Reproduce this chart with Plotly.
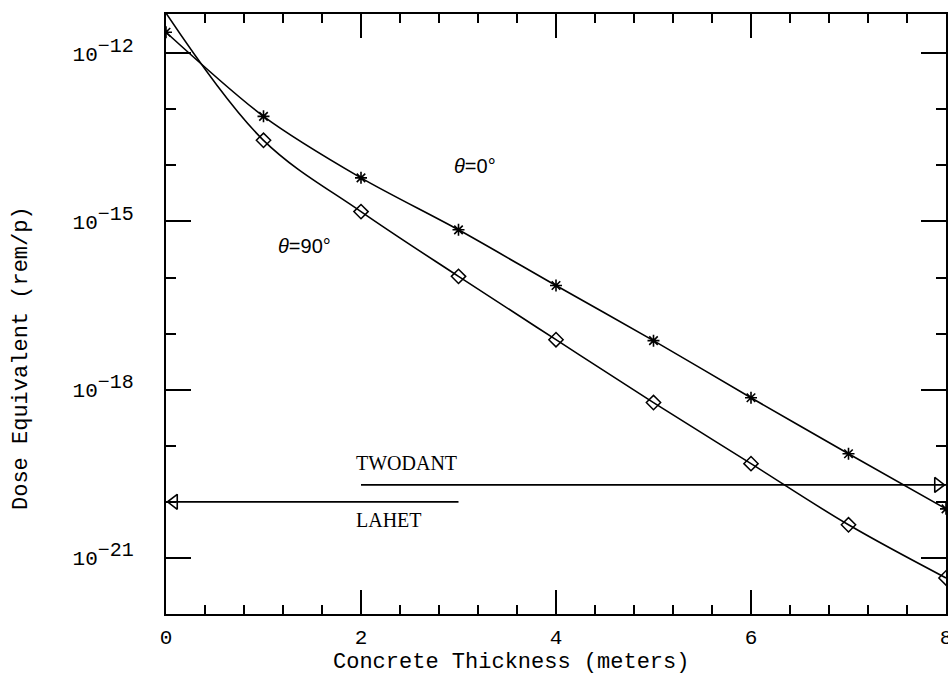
import plotly.graph_objects as go

# ---- data ----
thickness = [0, 1, 2, 3, 4, 5, 6, 7, 8]
dose_theta0 = [2.37e-12, 7.5e-14, 6.0e-15, 7.1e-16, 7.2e-17, 7.5e-18, 7.2e-19, 7.2e-20, 7.5e-21]
dose_theta90 = [5.2e-12, 2.8e-14, 1.5e-15, 1.05e-16, 7.8e-18, 5.9e-19, 4.8e-20, 3.9e-21, 4.4e-22]

twodant_x = [2, 8]
twodant_y = [2.0e-20, 2.0e-20]
lahet_x = [0, 3]
lahet_y = [1.0e-20, 1.0e-20]

x_major = [0, 2, 4, 6, 8]
x_minor = [round(0.4 * i, 1) for i in range(21)]
y_major = [1e-12, 1e-15, 1e-18, 1e-21]
y_exps = ["\u221212", "\u221215", "\u221218", "\u221221"]
y_major_text = ["10<sup><span style='font-size:20px'>%s</span></sup>" % e for e in y_exps]
y_minor = [10.0 ** e for e in range(-22, -11)]

# ---- layout constants ----
W, H = 948, 678
ML, MR, MT, MB = 166, 2, 14, 64
XR = [0, 8]
YR = [-22, -11.3]
plot_w = W - ML - MR
px_per_x = plot_w / (XR[1] - XR[0])
tri_half = 8 / px_per_x  # half length of arrow triangle in data units

mono = "Liberation Mono"
serif = "Liberation Serif"
sans = "Liberation Sans"

fig = go.Figure()

fig.add_trace(go.Scatter(
    x=thickness, y=dose_theta0, mode="lines+markers",
    line=dict(color="black", width=1.6, shape="spline", smoothing=0.8),
    marker=dict(symbol="asterisk-open", size=10, line=dict(color="black", width=1.6)),
    showlegend=False,
))
fig.add_trace(go.Scatter(
    x=thickness, y=dose_theta90, mode="lines",
    line=dict(color="black", width=1.6, shape="spline", smoothing=1.0),
    showlegend=False,
))
# diamond markers for the plotted points (x=0 lies at/above the axis top)
fig.add_trace(go.Scatter(
    x=thickness[1:], y=dose_theta90[1:], mode="markers",
    marker=dict(symbol="diamond-open", size=11, color="black", line=dict(color="black", width=1.5)),
    showlegend=False,
))

# TWODANT / LAHET reference lines
fig.add_trace(go.Scatter(x=twodant_x, y=twodant_y, mode="lines",
                         line=dict(color="black", width=1.8), showlegend=False))
fig.add_trace(go.Scatter(x=lahet_x, y=lahet_y, mode="lines",
                         line=dict(color="black", width=1.8), showlegend=False))
fig.add_trace(go.Scatter(
    x=[twodant_x[-1] - tri_half], y=[twodant_y[-1]], mode="markers",
    marker=dict(symbol="triangle-right-open", size=13, color="black", line=dict(color="black", width=1.6)),
    showlegend=False, cliponaxis=False,
))
fig.add_trace(go.Scatter(
    x=[lahet_x[0] + tri_half], y=[lahet_y[0]], mode="markers",
    marker=dict(symbol="triangle-left-open", size=13, color="black", line=dict(color="black", width=1.6)),
    showlegend=False, cliponaxis=False,
))

def px2paper_x(px):
    return (px - ML) / plot_w

def px2paper_y(py):
    return (H - MB - py) / (H - MT - MB)

annotations = [
    dict(text="<i>\u03b8</i>=0\u00b0", x=px2paper_x(452), y=px2paper_y(166), xanchor="left", yanchor="middle",
         font=dict(family=sans, size=20, color="black")),
    dict(text="<i>\u03b8</i>=90\u00b0", x=px2paper_x(276), y=px2paper_y(246), xanchor="left", yanchor="middle",
         font=dict(family=sans, size=20, color="black")),
    dict(text="TWODANT", x=px2paper_x(354), y=px2paper_y(463), xanchor="left", yanchor="middle",
         font=dict(family=serif, size=20, color="black")),
    dict(text="LAHET", x=px2paper_x(354), y=px2paper_y(520), xanchor="left", yanchor="middle",
         font=dict(family=serif, size=20, color="black")),
    dict(text="Concrete Thickness (meters)", x=px2paper_x(511), y=px2paper_y(663),
         xanchor="center", yanchor="middle", font=dict(family=mono, size=22, color="black")),
    dict(text="Dose Equivalent (rem/p)", x=px2paper_x(22), y=px2paper_y(358), textangle=-90,
         xanchor="center", yanchor="middle", font=dict(family=mono, size=22, color="black")),
]
for a in annotations:
    a.update(xref="paper", yref="paper", showarrow=False)

fig.update_layout(
    width=W, height=H,
    margin=dict(l=ML, r=MR, t=MT, b=MB, pad=0, autoexpand=False),
    paper_bgcolor="white", plot_bgcolor="white",
    annotations=annotations,
    font=dict(family=mono, size=21, color="black"),
)

fig.update_xaxes(
    range=XR, showgrid=False, zeroline=False, automargin=False,
    showline=True, linecolor="black", linewidth=2, mirror="ticks",
    ticks="inside", ticklen=24, tickwidth=2, tickcolor="black",
    tickmode="array", tickvals=x_major, ticktext=[str(v) for v in x_major],
    tickfont=dict(family=mono, size=21, color="black"),
    ticklabelstandoff=3, ticklabeloverflow="allow",
    minor=dict(tickmode="array", tickvals=x_minor, ticks="inside", ticklen=9, tickwidth=2,
               tickcolor="black", showgrid=False),
)
fig.update_yaxes(
    type="log", range=YR, showgrid=False, zeroline=False, automargin=False,
    showline=True, linecolor="black", linewidth=2, mirror="ticks",
    ticks="inside", ticklen=25, tickwidth=2, tickcolor="black",
    tickmode="array", tickvals=y_major, ticktext=y_major_text,
    tickfont=dict(family=mono, size=21, color="black"),
    ticklabelstandoff=26, ticklabeloverflow="allow",
    minor=dict(tickmode="array", tickvals=y_minor, ticks="inside", ticklen=10, tickwidth=2,
               tickcolor="black", showgrid=False),
)

fig.write_html(
    "out.html",
    config={"displayModeBar": False},
    post_script="document.body.style.margin='0';document.body.style.overflow='hidden';",
)
